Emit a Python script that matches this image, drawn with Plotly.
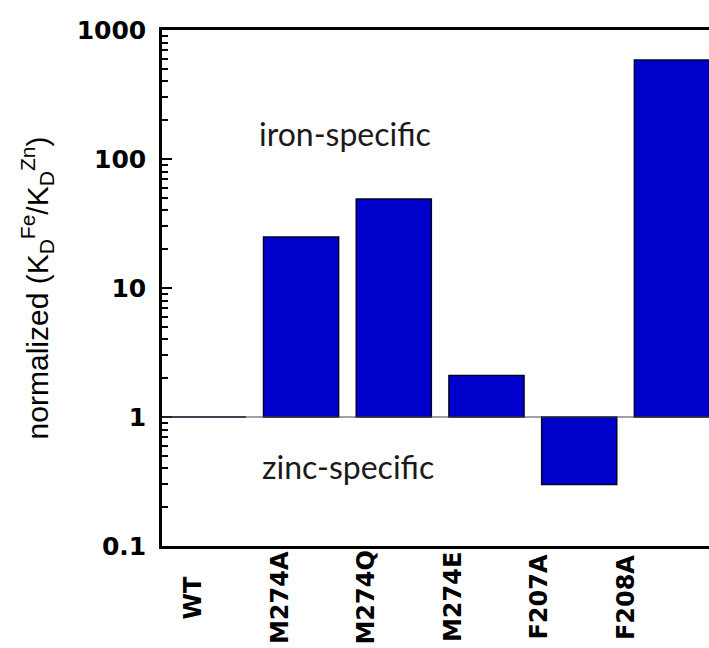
import plotly.graph_objects as go

categories = ["WT", "M274A", "M274Q", "M274E", "F207A", "F208A"]
values = [1.0, 24.8, 49.0, 2.1, 0.30, 586.0]
baseline = 1.0
y_tick_vals = [0.1, 1, 10, 100, 1000]
y_tick_text = ["0.1", "1", "10", "100", "1000"]
minor_vals = [m * 10 ** e for e in range(-1, 3) for m in range(2, 10)]
region_labels = ["iron-specific", "zinc-specific"]

idx = list(range(len(categories)))
heights = [v - baseline for v in values]

fig = go.Figure()
fig.add_trace(go.Bar(
    x=idx, y=heights, base=[baseline] * len(values),
    width=0.81,
    marker=dict(color="#0000CC", line=dict(color="#00002a", width=1.5)),
    showlegend=False, hoverinfo="skip",
))

fig.add_shape(type="line", xref="paper", x0=0, x1=1, yref="y", y0=baseline, y1=baseline,
              line=dict(color="#444444", width=1.2), layer="above")

for i, c in enumerate(categories):
    fig.add_annotation(x=i, xref="x2", y=-0.10, yref="paper", text=c, textangle=-90,
                       showarrow=False, xanchor="center", yanchor="middle",
                       font=dict(family="DejaVu Sans", size=24, color="black", weight="bold"))

fig.add_annotation(x=0.53, xref="x", y=2.20, yref="y", text=region_labels[0], showarrow=False,
                   xanchor="left", yanchor="middle",
                   font=dict(family="Lato, Open Sans", size=32, color="#1a1a1a"))
fig.add_annotation(x=0.56, xref="x", y=-0.38, yref="y", text=region_labels[1], showarrow=False,
                   xanchor="left", yanchor="middle",
                   font=dict(family="Lato, Open Sans", size=32, color="#1a1a1a"))

fig.update_layout(
    width=709, height=648,
    margin=dict(l=162, r=0, t=30, b=102),
    paper_bgcolor="white", plot_bgcolor="white",
    xaxis=dict(range=[-0.5, 5.4], showticklabels=False, ticks="", showgrid=False, zeroline=False,
               showline=True, mirror=True, linecolor="black", linewidth=2.5),
    xaxis2=dict(range=[-0.358, 5.965], overlaying="x", anchor="y", side="bottom",
                showticklabels=False, ticks="", showgrid=False, zeroline=False, showline=False),
    yaxis=dict(type="log", range=[-1, 3], tickmode="array", tickvals=y_tick_vals, ticktext=y_tick_text,
               ticks="inside", ticklen=10, tickwidth=2, tickcolor="black",
               showline=True, linecolor="black", linewidth=2.5, showgrid=False, zeroline=False,
               tickfont=dict(family="DejaVu Sans", size=25, color="black", weight="bold"),
               ticklabelstandoff=8,
               minor=dict(tickmode="array", tickvals=minor_vals, ticks="inside", ticklen=6,
                          tickwidth=2, tickcolor="black", showgrid=False),
               title=dict(text="normalized (K<sub>D</sub><sup>Fe</sup>/K<sub>D</sub><sup>Zn</sup>)",
                          font=dict(family="Liberation Sans, Arial", size=30, color="black"),
                          standoff=20)),
)

fig.write_html("out.html")
